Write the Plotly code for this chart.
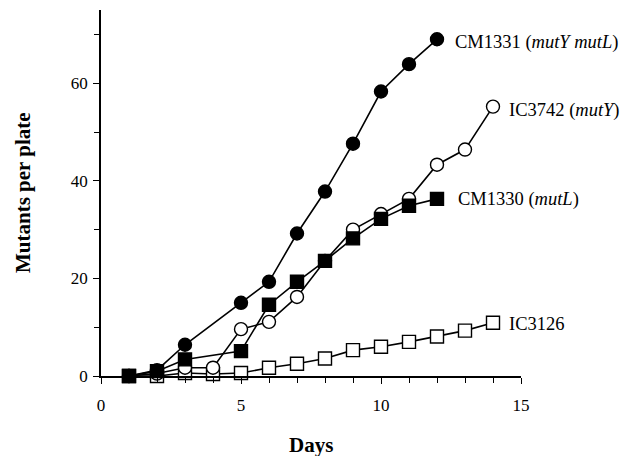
import plotly.graph_objects as go

days_cm1331 = [1, 2, 3, 5, 6, 7, 8, 9, 10, 11, 12]
cm1331 = [0, 1.2, 6.4, 15.0, 19.3, 29.2, 37.8, 47.6, 58.3, 63.9, 69.0]

days_ic3742 = [1, 2, 3, 4, 5, 6, 7, 8, 9, 10, 11, 12, 13, 14]
ic3742 = [0, 0.5, 1.7, 1.7, 9.6, 11.1, 16.2, 23.6, 30.0, 33.2, 36.3, 43.3, 46.4, 55.2]

days_cm1330 = [1, 2, 3, 5, 6, 7, 8, 9, 10, 11, 12]
cm1330 = [0, 1.0, 3.4, 5.1, 14.6, 19.3, 23.6, 28.2, 32.2, 34.9, 36.3]

days_ic3126 = [1, 2, 3, 4, 5, 6, 7, 8, 9, 10, 11, 12, 13, 14]
ic3126 = [0, 0, 0.6, 0.4, 0.6, 1.7, 2.5, 3.6, 5.3, 6.0, 7.0, 8.1, 9.3, 10.9]

labels = ["CM1331 (<i>mutY mutL</i>)", "IC3742 (<i>mutY</i>)", "CM1330 (<i>mutL</i>)", "IC3126"]
label_x = [12.57, 14.5, 12.68, 14.5]
label_y = [68.4, 54.5, 36.1, 10.6]

FONT = "Liberation Serif"

fig = go.Figure()

def add(x, y, symbol, fill):
    fig.add_trace(go.Scatter(
        x=x, y=y, mode="lines+markers",
        line=dict(color="black", width=1.6),
        marker=dict(symbol=symbol, size=13, color=fill,
                    line=dict(color="black", width=1.4)),
        cliponaxis=False, showlegend=False))

add(days_ic3126, ic3126, "square", "white")
add(days_ic3742, ic3742, "circle", "white")
add(days_cm1331, cm1331, "circle", "black")
add(days_cm1330, cm1330, "square", "black")

for t, lx, ly in zip(labels, label_x, label_y):
    fig.add_annotation(x=lx, y=ly, xref="x", yref="y", text=t, showarrow=False,
                       xanchor="left", yanchor="middle",
                       font=dict(family=FONT, size=18.5, color="black"))

fig.add_annotation(x=0.5, y=0, xref="paper", yref="paper", yshift=-69,
                   text="<b>Days</b>", showarrow=False, xanchor="center", yanchor="middle",
                   font=dict(family=FONT, size=21, color="black"))
fig.add_annotation(x=0, y=0.5, xref="paper", yref="paper", xshift=-78,
                   text="<b>Mutants per plate</b>", showarrow=False, textangle=-90,
                   xanchor="center", yanchor="middle",
                   font=dict(family=FONT, size=21, color="black"))

fig.update_layout(
    width=620, height=456,
    margin=dict(l=101, r=99, t=10, b=80, autoexpand=False),
    plot_bgcolor="white", paper_bgcolor="white",
    font=dict(family=FONT, size=17, color="black"),
    xaxis=dict(range=[0, 15], showgrid=False, zeroline=False, automargin=False,
               showline=True, linecolor="black", linewidth=1.5,
               ticks="outside", ticklen=6, tickwidth=1.2, tickcolor="black",
               tick0=0, dtick=5, ticklabelstandoff=7,
               minor=dict(dtick=1, ticks="outside", ticklen=5, tickwidth=1.2, tickcolor="black")),
    yaxis=dict(range=[0, 75], showgrid=False, zeroline=False, automargin=False,
               showline=True, linecolor="black", linewidth=1.5,
               ticks="outside", ticklen=6, tickwidth=1.2, tickcolor="black",
               tick0=0, dtick=20, ticklabelstandoff=2,
               minor=dict(dtick=10, ticks="outside", ticklen=5, tickwidth=1.2, tickcolor="black")),
)

# remove the browser's default 8px body margin so the 620x456 figure fills the window exactly
fig.write_html("out.html", config={"displayModeBar": False},
               post_script="document.body.style.margin='0';document.body.style.overflow='hidden';")
